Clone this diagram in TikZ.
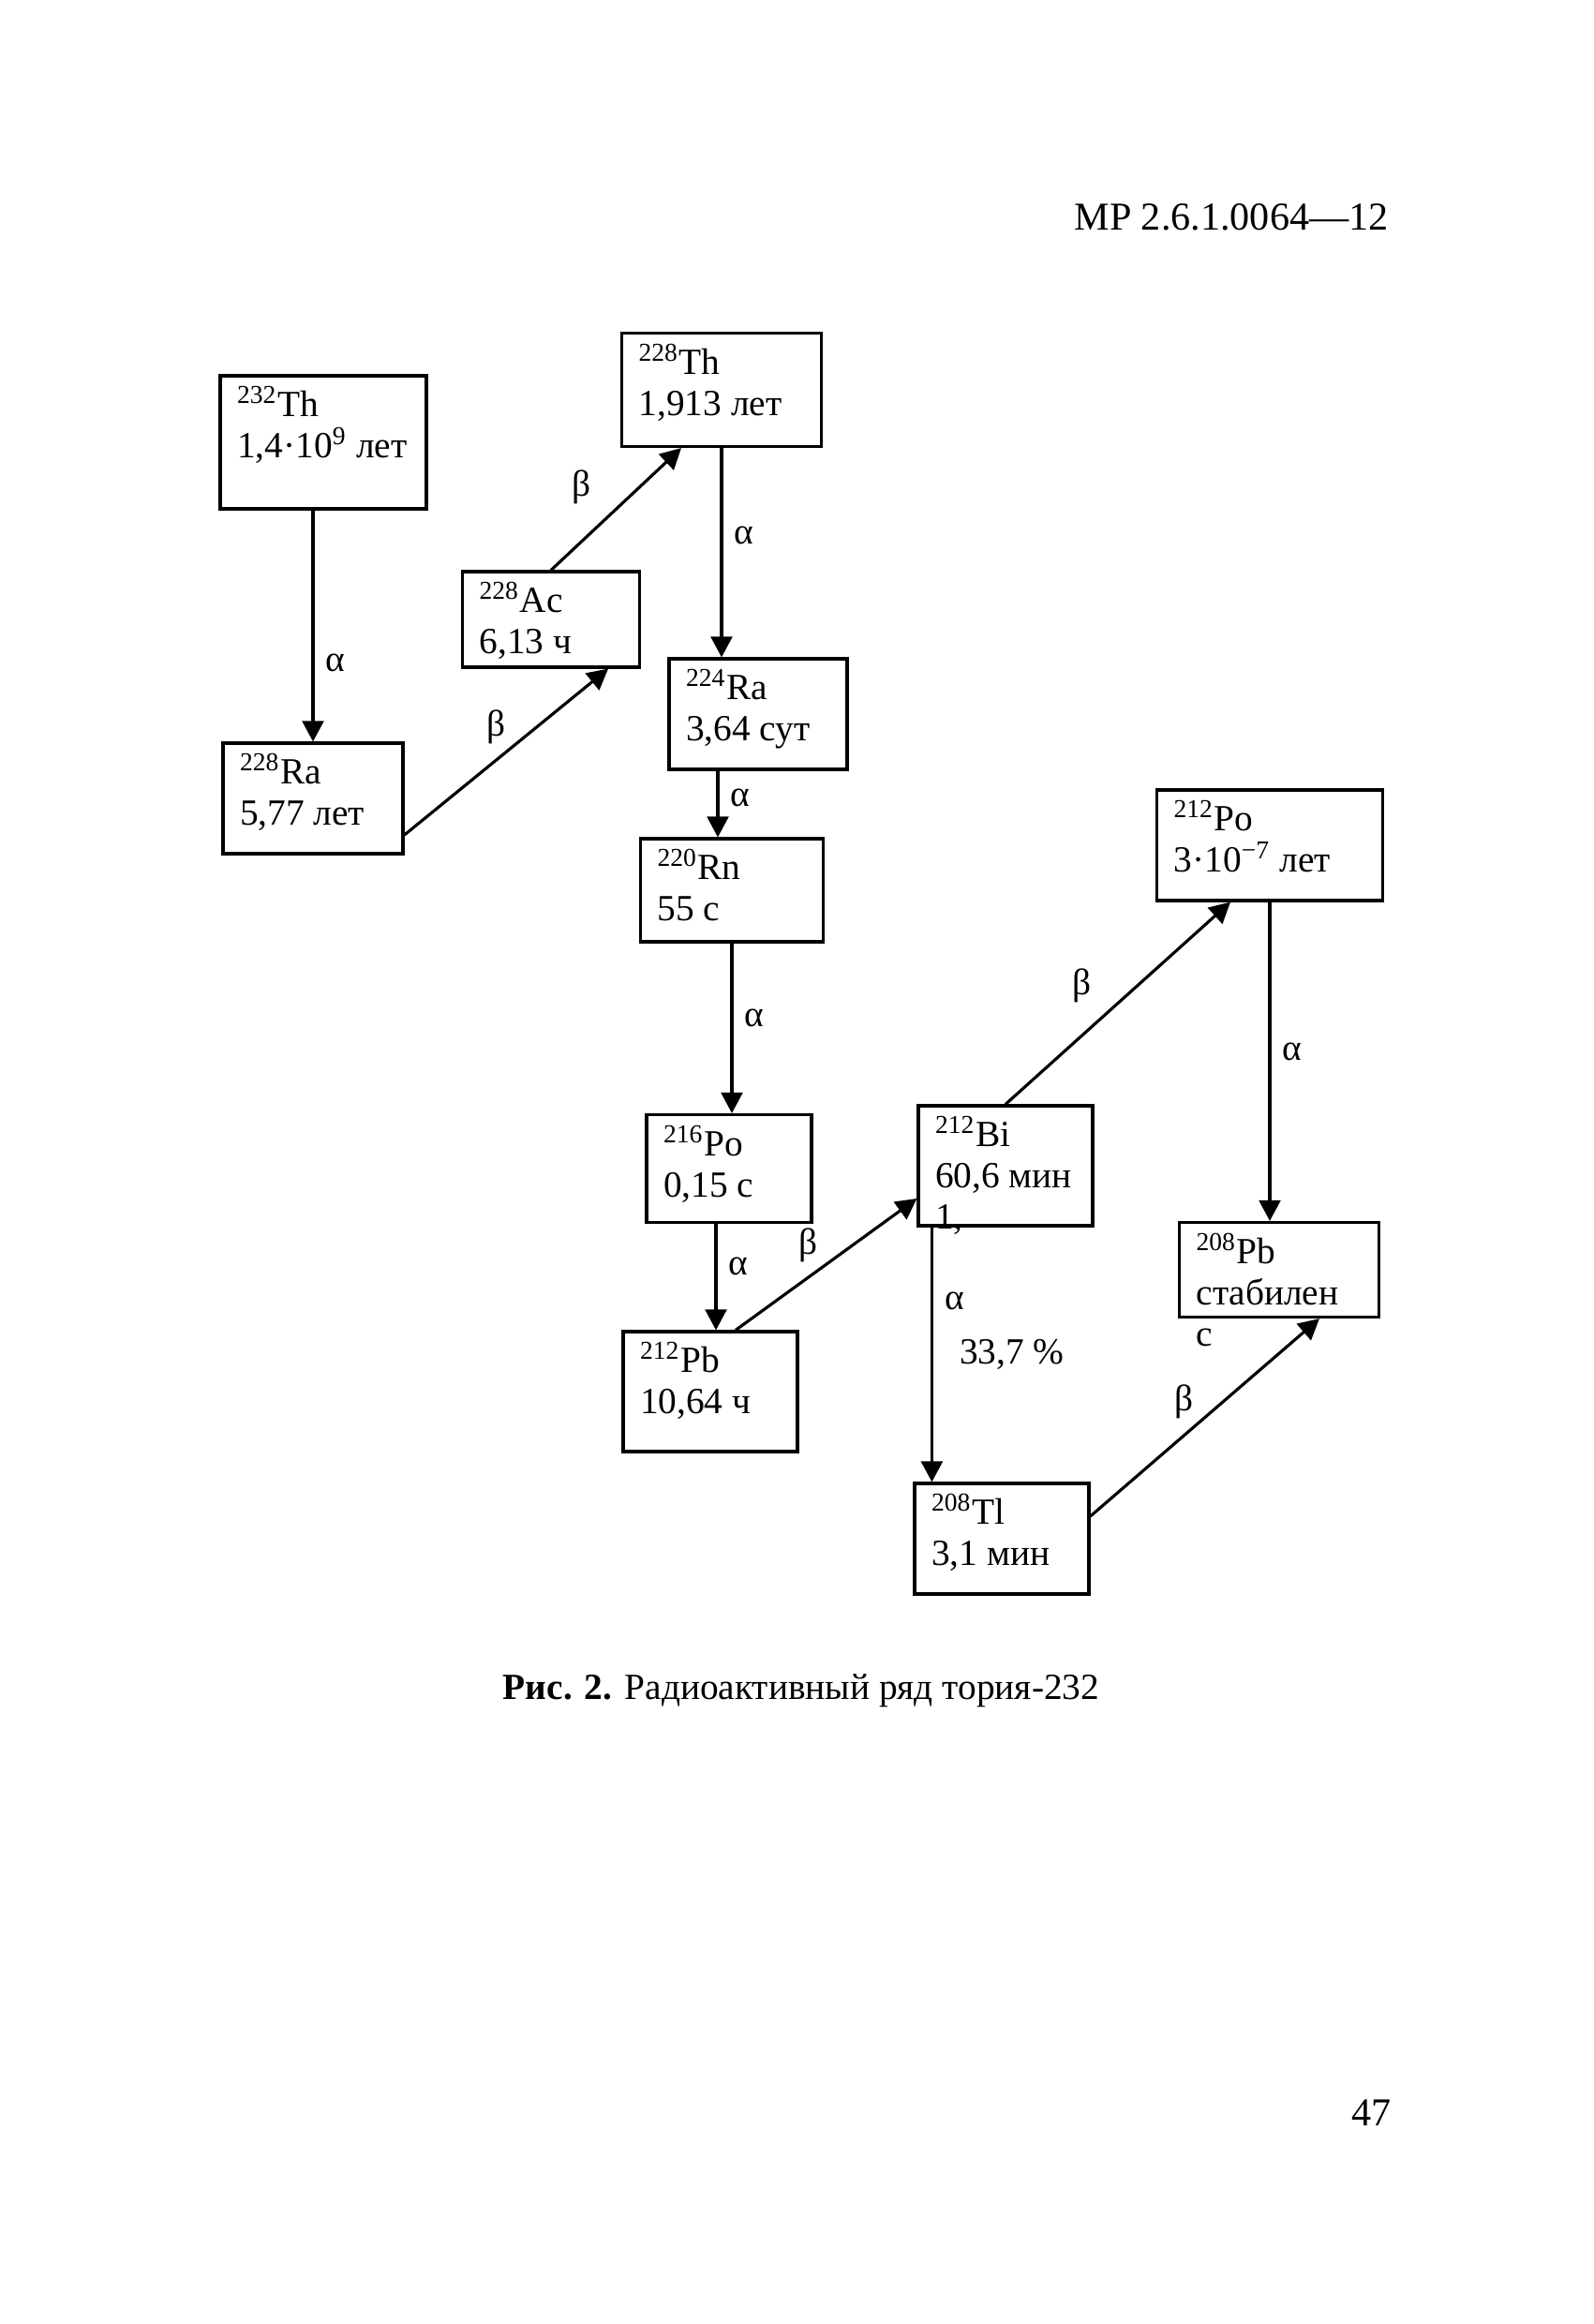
\documentclass[tikz,border=0pt]{standalone}
\usepackage{fontspec}
\setmainfont{Liberation Serif}
\usetikzlibrary{arrows.meta}

\begin{document}
\begin{tikzpicture}[
  font=\fontsize{11.2}{12.5}\selectfont,
  >={Triangle[length=6.3pt,width=6.5pt]},
  nuc/.style={rectangle, draw, line width=0.9pt},
  nuctxt/.style={anchor=north west, align=left, inner xsep=5.4pt, inner ysep=3.5pt},
  decay/.style={->, line width=0.9pt},
  lbl/.style={inner sep=1pt}
]
  \useasboundingbox (0,0) rectangle (17,-24.8);
  % Nodes
  \node (th232) [nuc, minimum width=2.20cm, minimum height=1.42cm, label={[nuctxt]north west:\textsuperscript{232}Th\\1,4·10\textsuperscript{9} лет}] at (3.45,-4.72) {};
  \node (th228) [nuc, minimum width=2.13cm, minimum height=1.21cm, label={[nuctxt]north west:\textsuperscript{228}Th\\1,913 лет}] at (7.70,-4.16) {};
  \node (ac228) [nuc, minimum width=1.89cm, minimum height=1.02cm, label={[nuctxt]north west:\textsuperscript{228}Ac\\6,13 ч}] at (5.88,-6.61) {};
  \node (ra228) [nuc, minimum width=1.92cm, minimum height=1.18cm, label={[nuctxt]north west:\textsuperscript{228}Ra\\5,77 лет}] at (3.34,-8.52) {};
  \node (ra224) [nuc, minimum width=1.90cm, minimum height=1.18cm, label={[nuctxt]north west:\textsuperscript{224}Ra\\3,64 сут}] at (8.09,-7.62) {};
  \node (rn220) [nuc, minimum width=1.95cm, minimum height=1.10cm, label={[nuctxt]north west:\textsuperscript{220}Rn\\55 с}] at (7.81,-9.50) {};
  \node (po212) [nuc, minimum width=2.41cm, minimum height=1.18cm, label={[nuctxt]north west:\textsuperscript{212}Po\\3·10\textsuperscript{−7} лет}] at (13.55,-9.02) {};
  \node (po216) [nuc, minimum width=1.76cm, minimum height=1.15cm, label={[nuctxt]north west:\textsuperscript{216}Po\\0,15 с}] at (7.78,-12.47) {};
  \node (bi212) [nuc, minimum width=1.86cm, minimum height=1.28cm, label={[nuctxt]north west:\textsuperscript{212}Bi\\60,6 мин\\1,}] at (10.73,-12.44) {};
  \node (pb208) [nuc, minimum width=2.13cm, minimum height=1.01cm, label={[nuctxt]north west:\textsuperscript{208}Pb\\стабилен\\с}] at (13.65,-13.55) {};
  \node (pb212) [nuc, minimum width=1.86cm, minimum height=1.28cm, label={[nuctxt]north west:\textsuperscript{212}Pb\\10,64 ч}] at (7.58,-14.85) {};
  \node (tl208) [nuc, minimum width=1.86cm, minimum height=1.18cm, label={[nuctxt]north west:\textsuperscript{208}Tl\\3,1 мин}] at (10.69,-16.42) {};
  % Arrow
  \coordinate (ra224-out) at ([xshift=-0.43cm]ra224.south);
  \coordinate (po216-out) at ([xshift=-0.14cm]po216.south);
  \coordinate (bi212-out) at ([xshift=0.16cm]bi212.south west);
  \draw[decay] (th232.south -| ra228.north) -- node[lbl, pos=0.66, right=2.5pt] {α} (ra228.north);
  \draw[decay] ([yshift=-0.39cm]ra228.east) -- node[lbl, pos=0.52, above left] {β} ([xshift=-0.35cm]ac228.south east);
  \draw[decay] (ac228.north) -- node[lbl, pos=0.42, above left=3pt] {β} ([xshift=-0.43cm]th228.south);
  \draw[decay] (th228.south) -- node[lbl, pos=0.42, right=2.5pt] {α} (th228.south |- ra224.north);
  \draw[decay] (ra224-out) -- node[lbl, pos=0.4, right=2.5pt] {α} (ra224-out |- rn220.north);
  \draw[decay] (rn220.south) -- node[lbl, pos=0.44, right=2.5pt] {α} (rn220.south |- po216.north);
  \draw[decay] (po216-out) -- node[lbl, pos=0.4, right=2.5pt] {α} (po216-out |- pb212.north);
  \draw[decay] ([xshift=0.27cm]pb212.north) -- node[lbl, pos=0.48, above left] {β} ([yshift=-0.35cm]bi212.west);
  \draw[decay] (bi212.north) -- node[lbl, pos=0.44, above left=2.5pt] {β} ([xshift=-0.42cm]po212.south);
  \draw[decay] (po212.south) -- node[lbl, pos=0.47, right=2.5pt] {α} (po212.south |- pb208.north);
  \draw[decay] (bi212-out) -- node[lbl, pos=0.29, right=2.5pt] {α} node[lbl, pos=0.5, right=7pt] {33,7 \%} (bi212-out |- tl208.north);
  \draw[decay] ([yshift=0.24cm]tl208.east) -- node[lbl, pos=0.47, above left] {β} ([xshift=0.43cm]pb208.south);
  % Header
  \node (hdr) [anchor=base east, font=\fontsize{12}{14}\selectfont] at (14.94,-2.46) {МР 2.6.1.0064—12};
  \node (cap) [anchor=base] at (8.55,-18.13) {\textbf{Рис. 2.} Радиоактивный ряд тория-232};
  \node (pg) [anchor=base east, font=\fontsize{12}{14}\selectfont] at (14.97,-22.68) {47};
\end{tikzpicture}
\end{document}
